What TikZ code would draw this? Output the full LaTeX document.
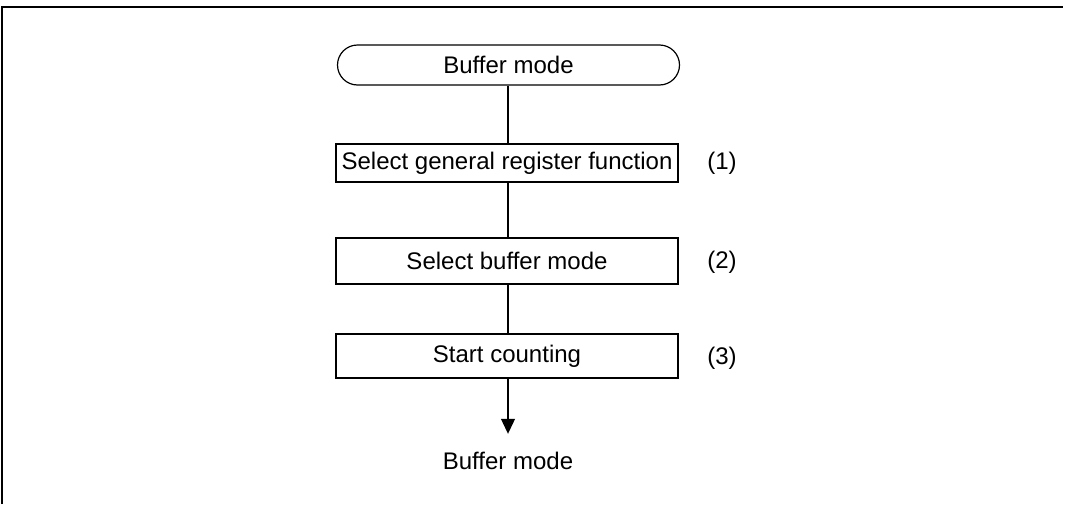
\documentclass[tikz,border=0pt]{standalone}
\usepackage{fontspec}
\setmainfont{Liberation Sans}
\usetikzlibrary{arrows.meta}
\tikzset{
  flowline/.style={line width=0.6pt, draw=black},
  termbox/.style={draw, line width=0.6pt, rounded corners=10pt, minimum width=171pt, minimum height=20pt, inner sep=0pt},
  procbox/.style={draw, line width=0.6pt, minimum width=171pt, inner sep=0pt},
  steplabel/.style={inner sep=0pt},
  framestyle/.style={line width=0.8pt}
}
\begin{document}
\begin{tikzpicture}[x=0.5pt, y=-0.5pt, font=\fontsize{12pt}{14pt}\selectfont]
\useasboundingbox (0,0) rectangle (1066,504);
% frame
\coordinate (fbl) at (2,504);
\coordinate (ftl) at (2,7);
\coordinate (ftr) at (1063,7);
\draw[framestyle] (fbl) -- (ftl) -- (ftr);
% nodes
\node[termbox] (start) at (508.5,65) {Buffer mode};
\node[procbox, minimum height=19pt] (b1) at (507,163) {Select general register function};
\node[procbox, minimum height=23pt] (b2) at (507,261) {Select buffer mode};
\node[procbox, minimum height=22pt] (b3) at (507,356) {Start counting};
\node[inner xsep=0pt, inner ysep=9pt] (out) at (508,461) {Buffer mode};
\node[steplabel] (l1) at (722,163) {(1)};
\node[steplabel] (l2) at (722,262) {(2)};
\node[steplabel] (l3) at (722,358) {(3)};
% connectors
\draw[flowline] (start.south -| 508,0) -- (b1.north -| 508,0);
\draw[flowline] (b1.south -| 508,0) -- (b2.north -| 508,0);
\draw[flowline] (b2.south -| 508,0) -- (b3.north -| 508,0);
\draw[flowline, -{Triangle[width=7pt,length=7.5pt]}] (b3.south -| out.north) -- (out.north);
\end{tikzpicture}
\end{document}
